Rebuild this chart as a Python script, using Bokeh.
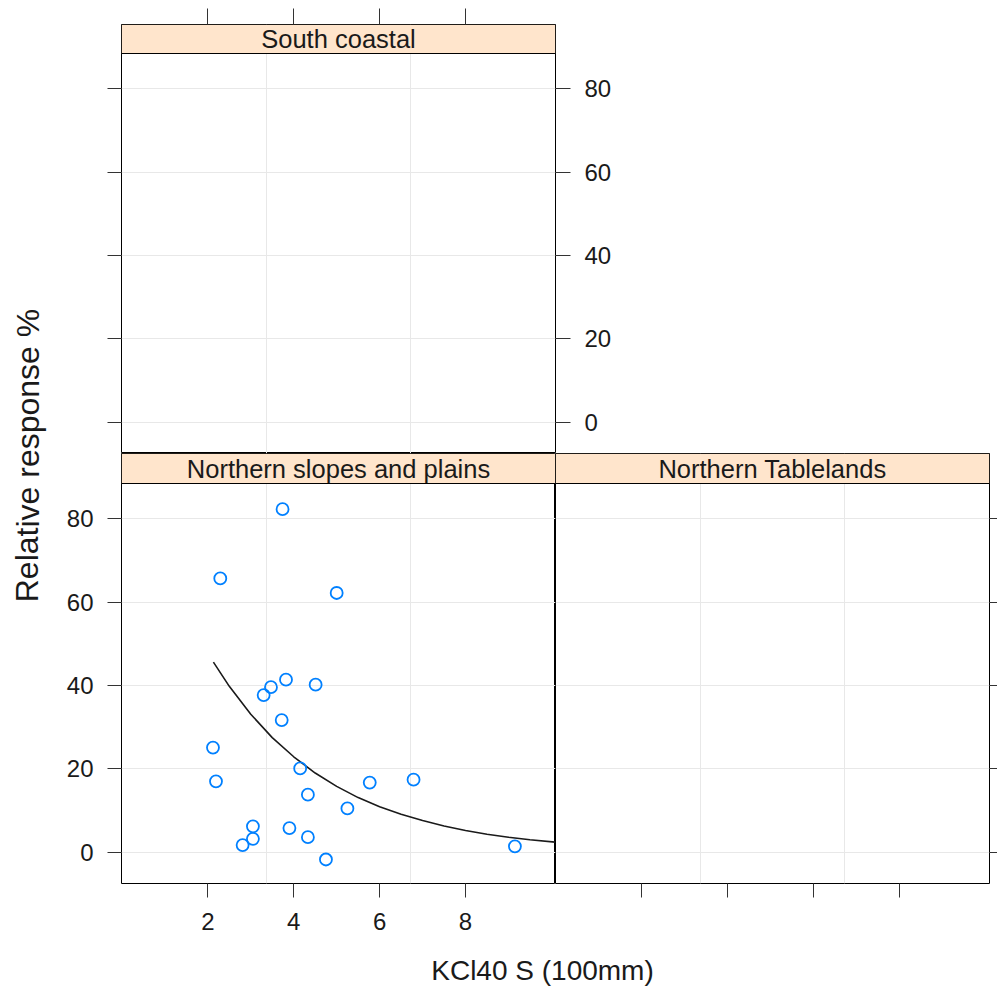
from bokeh.plotting import figure
from bokeh.layouts import row, column, Spacer
from bokeh.models import Range1d, FixedTicker, LinearAxis
from bokeh.core.properties import value
from bokeh.embed import file_html
from bokeh.resources import INLINE

# ---------------- data ----------------
panel_titles = ["South coastal", "Northern slopes and plains", "Northern Tablelands"]
x_label = "KCl40 S (100mm)"
y_label = "Relative response %"
x_ticks = [2, 4, 6, 8]
y_ticks = [0, 20, 40, 60, 80]

# Northern slopes and plains: observed points
ns_kcl = [3.74, 2.29, 5.00, 3.82, 3.47, 3.30, 4.51, 3.72, 2.12, 2.19, 4.15,
          5.77, 6.79, 4.33, 5.25, 3.05, 3.90, 3.05, 4.33, 2.81, 4.75, 9.15]
ns_resp = [82.3, 65.7, 62.2, 41.4, 39.6, 37.7, 40.2, 31.7, 25.1, 17.0, 20.1,
           16.7, 17.4, 13.8, 10.5, 6.2, 5.8, 3.2, 3.6, 1.7, -1.75, 1.4]

# fitted response curve
fit_kcl = [2.13, 2.5, 3.0, 3.5, 4.0, 4.5, 5.0, 5.5, 6.0, 6.5, 7.0, 7.5, 8.0,
           8.5, 9.0, 9.5, 10.1]
fit_resp = [45.6, 39.8, 33.1, 27.5, 22.9, 19.0, 15.8, 13.1, 10.9, 9.1, 7.6,
            6.3, 5.2, 4.3, 3.6, 3.0, 2.4]

# ---------------- styling / layout ----------------
FONT = "Liberation Sans"
STRIP_FILL = "#ffe5cc"
PT_COLOR = "#0080ff"
GRID_COLOR = "#e8e8e8"
TICK_COLOR = "#333333"

X0, X1 = -0.01, 10.095
Y0, YDATA = -7.51, 88.47
UNIT_PER_PX = (YDATA - Y0) / 400.0


def add_axis(p, side, labelled, tick_out, standoff=14):
    ticks = x_ticks if side in ("above", "below") else y_ticks
    ax = LinearAxis(ticker=FixedTicker(ticks=ticks))
    ax.axis_line_color = None
    ax.major_tick_in = 0
    ax.major_tick_out = tick_out
    ax.minor_tick_line_color = None
    ax.major_tick_line_color = TICK_COLOR
    ax.major_tick_line_width = 1
    if labelled:
        ax.major_label_text_font = FONT
        ax.major_label_text_font_size = "24px"
        ax.major_label_text_color = "#1a1a1a"
        ax.major_label_standoff = standoff
    else:
        ax.major_label_overrides = {t: "" for t in ticks}
        ax.major_label_text_font_size = "0px"
        ax.major_label_standoff = 0
    p.add_layout(ax, side)


def make_panel(title, width, height, strip_px, mbl, mbr, mbt, mbb, data_x=None, data_y=None):
    frame_h = height - mbt - mbb
    y_end = Y0 + frame_h * UNIT_PER_PX
    p = figure(width=width, height=height,
               x_range=Range1d(X0, X1), y_range=Range1d(Y0, y_end),
               x_axis_location=None, y_axis_location=None,
               toolbar_location=None, output_backend="svg")
    p.min_border = 0
    p.min_border_left = mbl
    p.min_border_right = mbr
    p.min_border_top = mbt
    p.min_border_bottom = mbb
    p.outline_line_color = "black"
    p.outline_line_width = 1
    p.background_fill_color = "white"
    p.border_fill_color = "white"
    p.xgrid.ticker = FixedTicker(ticks=[X0 + (X1 - X0) / 3, X0 + 2 * (X1 - X0) / 3])
    p.ygrid.ticker = FixedTicker(ticks=y_ticks)
    p.xgrid.grid_line_color = GRID_COLOR
    p.ygrid.grid_line_color = GRID_COLOR
    strip_bottom = y_end - strip_px * UNIT_PER_PX
    if data_x is not None:
        p.line(fit_kcl, fit_resp, line_color="#1a1a1a", line_width=1.6)
        p.scatter(data_x, data_y, marker="circle", size=12, fill_color=None,
                  line_color=PT_COLOR, line_width=1.8)
    p.quad(left=[X0], right=[X1], bottom=[strip_bottom], top=[y_end],
           fill_color=STRIP_FILL, line_color="black", line_width=1)
    p.text(x=[(X0 + X1) / 2], y=[(strip_bottom + y_end) / 2], text=[title],
           text_font=value(FONT), text_font_size=value("25.5px"),
           text_align="center", text_baseline="middle", text_color="#1a1a1a")
    return p


# top panel: South coastal
p_top = make_panel(panel_titles[0], 575, 453, 29, 71, 70, 24, 0)
add_axis(p_top, "above", False, 16)
add_axis(p_top, "left", False, 14)
add_axis(p_top, "right", True, 15, standoff=14)

# bottom-left: Northern slopes and plains
p_bl = make_panel(panel_titles[1], 505, 490, 30, 71, 0, 0, 60, ns_kcl, ns_resp)
add_axis(p_bl, "left", True, 14, standoff=14)
add_axis(p_bl, "below", True, 14, standoff=15)

# bottom-right: Northern Tablelands
p_br = make_panel(panel_titles[2], 442, 490, 30, 0, 8, 0, 60)
add_axis(p_br, "below", False, 14)
add_axis(p_br, "right", False, 8)


def label_fig(w, h, x, y, txt, angle, size):
    f = figure(width=w, height=h, x_range=Range1d(0, w), y_range=Range1d(0, h),
               toolbar_location=None, output_backend="svg",
               x_axis_location=None, y_axis_location=None)
    f.min_border = 0
    f.outline_line_color = None
    f.xgrid.visible = False
    f.ygrid.visible = False
    f.text(x=[x], y=[y], text=[txt], angle=angle,
           text_font=value(FONT), text_font_size=value(size),
           text_align="center", text_baseline="middle", text_color="#1a1a1a")
    return f


ylab = label_fig(50, 991, 27, 536, y_label, 1.5707963, "32px")
xlab = label_fig(947, 48, 492, 21, x_label, 0, "28px")

right_col = column(row(p_top, Spacer(width=372, height=453)),
                   row(p_bl, p_br),
                   xlab)
layout = row(ylab, right_col)

open("out.html", "w").write(file_html(layout, INLINE))
